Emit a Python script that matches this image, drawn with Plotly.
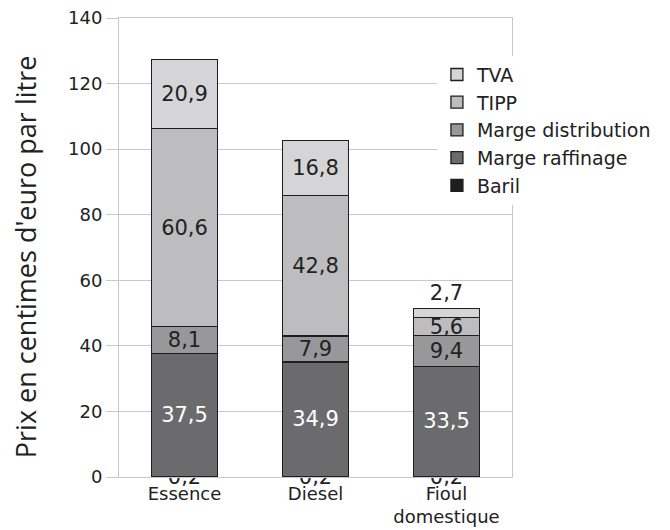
import plotly.graph_objects as go

categories = ["Essence", "Diesel", "Fioul<br>domestique"]

baril = [0.2, 0.2, 0.2]
marge_raffinage = [37.5, 34.9, 33.5]
marge_distribution = [8.1, 7.9, 9.4]
tipp = [60.6, 42.8, 5.6]
tva = [20.9, 16.8, 2.7]

# name, values, fill colour, label colour, legend rank (top of legend first)
series = [
    ("Baril", baril, "#1e1e1e", "#222222", 5),
    ("Marge raffinage", marge_raffinage, "#6b6b6e", "#ffffff", 4),
    ("Marge distribution", marge_distribution, "#98989b", "#222222", 3),
    ("TIPP", tipp, "#bdbdc0", "#222222", 2),
    ("TVA", tva, "#d5d5d7", "#222222", 1),
]

FONT = "DejaVu Sans"


def fr(v):
    return f"{v:.1f}".replace(".", ",")


fig = go.Figure()
for name, vals, color, txtcolor, rank in series:
    if name == "TVA":
        # the tiny top segment gets its label above the bar
        pos = ["inside" if v > 5 else "outside" for v in vals]
    else:
        pos = "inside"
    fig.add_trace(go.Bar(
        name=name,
        x=categories,
        y=vals,
        text=[fr(v) for v in vals],
        textposition=pos,
        insidetextanchor="middle",
        constraintext="none",
        cliponaxis=False,
        insidetextfont=dict(color=txtcolor, size=21, family=FONT),
        outsidetextfont=dict(color="#222222", size=21, family=FONT),
        marker=dict(color=color, line=dict(color="#1e1e1e", width=1.3)),
        legendrank=rank,
        hoverinfo="skip",
    ))

fig.update_layout(
    barmode="stack",
    bargap=0.5,
    width=670,
    height=530,
    margin=dict(l=111, r=166, t=10, b=61),
    plot_bgcolor="white",
    paper_bgcolor="white",
    font=dict(family=FONT, size=18, color="#222222"),
    showlegend=True,
    legend=dict(
        x=0.809, y=0.918, xanchor="left", yanchor="top",
        bgcolor="white",
        traceorder="normal",
        font=dict(size=19, family=FONT, color="#222222"),
    ),
    yaxis=dict(
        range=[0, 140],
        dtick=20,
        automargin=False,
        showgrid=True,
        gridcolor="#c8c8ca",
        gridwidth=1,
        showline=True,
        linecolor="#c8c8ca",
        mirror=True,
        ticks="outside",
        ticklen=12,
        tickcolor="#c8c8ca",
        zeroline=False,
        tickfont=dict(size=18),
        ticklabeloverflow="allow",
    ),
    xaxis=dict(
        automargin=False,
        showline=True,
        linecolor="#c8c8ca",
        mirror=True,
        ticks="",
        tickfont=dict(size=18),
    ),
    annotations=[dict(
        text="Prix en centimes d'euro par litre",
        textangle=-90,
        xref="paper", yref="paper",
        x=-0.239, y=0.479,
        xanchor="center", yanchor="middle",
        showarrow=False,
        font=dict(family="Open Sans", size=27, color="#222222"),
    )],
)

fig.write_html("out.html")
